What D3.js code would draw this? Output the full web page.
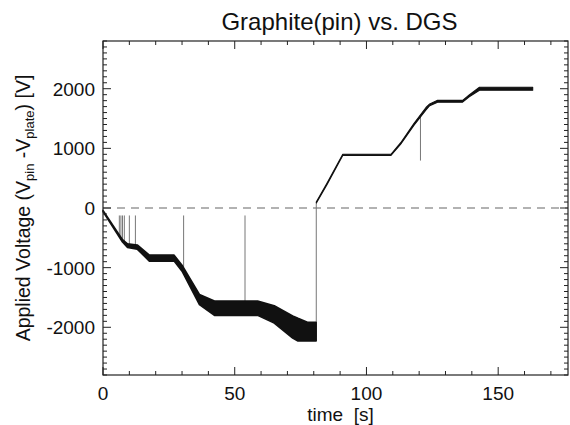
<!DOCTYPE html>
<html>
<head>
<meta charset="utf-8">
<script src="https://cdn.jsdelivr.net/npm/d3@7"></script>
<style>
  body { margin: 0; background: #fff; }
  text { font-family: "Liberation Sans", Arial, sans-serif; fill: #111; }
</style>
</head>
<body>
<div id="chart"></div>
<script>
// trace envelope (time [s], upper / lower voltage [V])
const times = [0, 7.4, 9.3, 13, 17.6, 27, 30, 36.6, 42.3, 58.7, 65, 72, 74, 77.6, 80.9,
  81, 85, 91, 109.3, 113, 118, 122.6, 124, 127, 136.5, 139, 142.9, 163.1];
const upper = [-40, -530, -600, -620, -790, -790, -960, -1450, -1560, -1560, -1640, -1810, -1850, -1915, -1915,
  105, 415, 900, 900, 1095, 1415, 1685, 1745, 1805, 1805, 1895, 2025, 2025];
const lower = [-60, -570, -660, -690, -890, -890, -1060, -1620, -1800, -1800, -1930, -2180, -2230, -2230, -2230,
  85, 390, 880, 880, 1070, 1385, 1645, 1715, 1775, 1775, 1865, 1975, 1975];

// isolated spikes: time, start and end voltage
const spikeT = [6.2, 6.8, 7.4, 8.1, 10.0, 12.3, 30.6, 53.9, 120.5];
const spikeFrom = [-125, -125, -125, -125, -125, -125, -125, -125, 1560];
const spikeTo = [-480, -520, -550, -590, -620, -640, -990, -1600, 795];

const xTicks = [0, 50, 100, 150];
const yTicks = [-2000, -1000, 0, 1000, 2000];

const margin = { top: 41, right: 2, bottom: 50, left: 103 };
const W = 570, H = 425;
const width = W - margin.left - margin.right;
const height = H - margin.top - margin.bottom;

const svg = d3.select("#chart").append("svg")
  .attr("width", W).attr("height", H);

const g = svg.append("g")
  .attr("transform", `translate(${margin.left},${margin.top})`);

const x = d3.scaleLinear().domain([0, 176.5]).range([0, width]);
const y = d3.scaleLinear().domain([-2800, 2800]).range([height, 0]);

// zero line
g.append("line")
  .attr("x1", 0).attr("x2", width)
  .attr("y1", y(0)).attr("y2", y(0))
  .attr("stroke", "#999").attr("stroke-width", 1.3)
  .attr("stroke-dasharray", "8,6");

// spikes
g.selectAll(".spike").data(spikeT).join("line")
  .attr("class", "spike")
  .attr("x1", d => x(d)).attr("x2", d => x(d))
  .attr("y1", (d, i) => y(spikeFrom[i]))
  .attr("y2", (d, i) => y(spikeTo[i]))
  .attr("stroke", "#777").attr("stroke-width", 1);

// vertical jump at ~81 s
g.append("line")
  .attr("x1", x(80.95)).attr("x2", x(80.95))
  .attr("y1", y(lower[14])).attr("y2", y(upper[15]))
  .attr("stroke", "#777").attr("stroke-width", 1);

const idx = d3.range(times.length);
const seg1 = idx.filter(i => times[i] <= 80.9);
const seg2 = idx.filter(i => times[i] >= 81);

const area = d3.area()
  .x(i => x(times[i]))
  .y0(i => y(lower[i]))
  .y1(i => y(upper[i]));

[seg1, seg2].forEach((seg, k) => {
  g.append("path")
    .datum(seg)
    .attr("d", area)
    .attr("fill", "#111")
    .attr("stroke", "#111")
    .attr("stroke-width", k === 0 ? 1.6 : 1.1)
    .attr("stroke-linejoin", "round");
});

// frame
g.append("rect")
  .attr("width", width).attr("height", height)
  .attr("fill", "none").attr("stroke", "#222").attr("stroke-width", 1.2);

// ticks pointing inward on all four sides
const xMinor = d3.range(0, 177, 10);
const yMinor = d3.range(-2800, 2801, 100);
const tk = g.append("g").attr("stroke", "#222").attr("stroke-width", 1);

xMinor.forEach(t => {
  const len = t % 50 === 0 ? 8 : 4;
  tk.append("line").attr("x1", x(t)).attr("x2", x(t)).attr("y1", height).attr("y2", height - len);
  tk.append("line").attr("x1", x(t)).attr("x2", x(t)).attr("y1", 0).attr("y2", len);
});
yMinor.forEach(v => {
  const len = v % 1000 === 0 ? 8 : 4;
  tk.append("line").attr("y1", y(v)).attr("y2", y(v)).attr("x1", 0).attr("x2", len);
  tk.append("line").attr("y1", y(v)).attr("y2", y(v)).attr("x1", width).attr("x2", width - len);
});

// tick labels
g.selectAll(".xl").data(xTicks).join("text")
  .attr("x", d => x(d)).attr("y", height + 25)
  .attr("text-anchor", "middle").attr("font-size", 19)
  .text(d => d);

g.selectAll(".yl").data(yTicks).join("text")
  .attr("x", -8).attr("y", d => y(d) + 7)
  .attr("text-anchor", "end").attr("font-size", 19)
  .text(d => d);

// title and axis labels
svg.append("text")
  .attr("x", margin.left + width / 2 + 4).attr("y", 30)
  .attr("text-anchor", "middle").attr("font-size", 24)
  .text("Graphite(pin) vs. DGS");

svg.append("text")
  .attr("x", margin.left + width / 2 + 5).attr("y", 421)
  .attr("text-anchor", "middle").attr("font-size", 19)
  .attr("xml:space", "preserve")
  .text("time  [s]");

const yl = svg.append("text")
  .attr("transform", `translate(30,${margin.top + height / 2}) rotate(-90)`)
  .attr("text-anchor", "middle").attr("font-size", 19.5);
yl.append("tspan").text("Applied Voltage (V");
yl.append("tspan").attr("font-size", 13).attr("dy", 4).text("pin");
yl.append("tspan").attr("dy", -4).text(" -V");
yl.append("tspan").attr("font-size", 13).attr("dy", 4).text("plate");
yl.append("tspan").attr("dy", -4).text(") [V]");
</script>
</body>
</html>
